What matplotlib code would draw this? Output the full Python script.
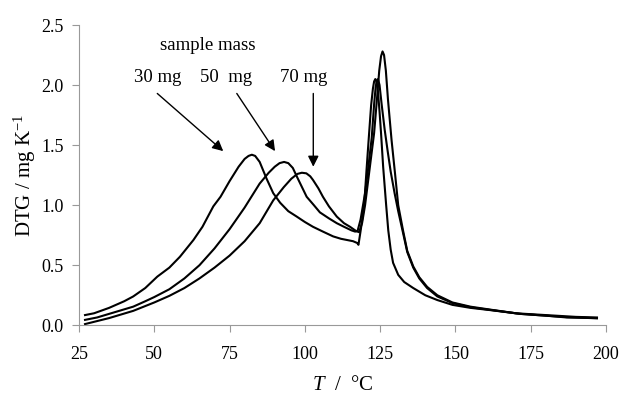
import matplotlib.pyplot as plt

# DTG curves (T in degC, DTG in mg/K)
T_30 = [27, 30, 35, 40, 43, 47, 51, 55, 58.5, 63, 66, 69.6, 72, 75, 78, 80, 81.3, 82.4, 83.5,
        85, 87.3, 89.5, 91.8, 94.5, 97.3, 100, 102.7, 106, 109.4, 112, 114, 116, 117.4, 117.8,
        118.6, 119.7, 120.5, 121.2, 122, 122.6, 123.0, 123.4, 123.8, 124.3, 124.8, 125.3, 126, 127, 127.7,
        128.5, 129.3, 131, 133, 136, 140, 144, 149, 155, 162, 170, 180, 190, 197]
D_30 = [0.085, 0.10, 0.145, 0.20, 0.24, 0.31, 0.405, 0.48, 0.57, 0.71, 0.82, 0.99, 1.07, 1.20, 1.32, 1.385, 1.41, 1.42, 1.41,
        1.36, 1.22, 1.10, 1.02, 0.95, 0.905, 0.86, 0.82, 0.78, 0.74, 0.72, 0.71, 0.70, 0.685, 0.67,
        0.80, 1.00, 1.30, 1.55, 1.83, 1.97, 2.03, 2.05, 2.03, 1.94, 1.78, 1.60, 1.32, 1.00, 0.79,
        0.63, 0.52, 0.42, 0.36, 0.31, 0.25, 0.21, 0.17, 0.145, 0.125, 0.10, 0.085, 0.07, 0.065]

T_50 = [27, 31, 35, 39, 43, 47, 50, 55, 60, 65, 70, 75, 80, 85, 88, 90, 91.6, 93.1, 94.5,
        96, 97.5, 100.6, 103, 105, 108, 110.6, 113, 115.5, 116.7, 117.5,
        118.5, 120, 121, 122.2, 123, 123.5, 123.9, 124.3, 124.8, 125.5, 126.5, 127.5,
        128.5, 129.8, 131, 132.6, 134, 136, 138, 140.6, 144, 149, 155, 162.5, 171.5, 180, 187, 197]
D_50 = [0.045, 0.065, 0.095, 0.125, 0.155, 0.20, 0.235, 0.30, 0.39, 0.50, 0.64, 0.80, 0.98, 1.18, 1.27, 1.32, 1.35, 1.36, 1.35,
        1.31, 1.23, 1.07, 1.00, 0.94, 0.89, 0.85, 0.82, 0.79, 0.78, 0.785,
        0.88, 1.10, 1.30, 1.56, 1.84, 1.98, 2.04, 2.05, 2.00, 1.84, 1.63, 1.45,
        1.28, 1.10, 0.95, 0.77, 0.61, 0.48, 0.39, 0.31, 0.24, 0.185, 0.15, 0.125, 0.095, 0.08, 0.068, 0.058]

T_70 = [27, 31, 35, 39, 43, 47, 50, 55, 60, 65, 70, 75, 80, 85, 89.5, 93, 95.5, 97.5, 99,
        100.5, 101.8, 102.7, 104.5, 106, 108, 110.6, 113, 115, 117, 118,
        119, 120, 121, 122, 123, 124, 124.7, 125.3, 125.8, 126.3, 126.9, 127.6, 128.8,
        130, 131, 132.6, 134, 136, 138, 140.6, 144, 149, 155, 162.5, 171.5, 180, 187, 197]
D_70 = [0.01, 0.035, 0.06, 0.09, 0.12, 0.16, 0.19, 0.245, 0.31, 0.39, 0.48, 0.58, 0.70, 0.85, 1.04, 1.15, 1.22, 1.26, 1.27,
        1.265, 1.24, 1.21, 1.14, 1.07, 0.99, 0.905, 0.85, 0.82, 0.785, 0.775,
        0.85, 1.00, 1.20, 1.40, 1.60, 1.90, 2.12, 2.24, 2.28, 2.25, 2.12, 1.88, 1.54,
        1.25, 1.00, 0.79, 0.62, 0.49, 0.40, 0.32, 0.25, 0.19, 0.155, 0.127, 0.095, 0.08, 0.065, 0.06]

labels = ['30 mg', '50  mg', '70 mg']
label_x = [51.2, 74.0, 99.6]
arrow_start = [(51.0, 1.93), (77.4, 1.93), (102.8, 1.93)]
arrow_tip = [(72.9, 1.45), (90.1, 1.45), (102.8, 1.32)]

plt.rcParams['font.family'] = 'Liberation Serif'
plt.rcParams['mathtext.fontset'] = 'custom'
plt.rcParams['mathtext.rm'] = 'Liberation Serif'
plt.rcParams['mathtext.it'] = 'Liberation Serif:italic'

fig = plt.figure(figsize=(6.23, 3.95), dpi=100)
ax = fig.add_axes([0.1268, 0.1765, 0.8459, 0.7602])

for T, D in [(T_30, D_30), (T_50, D_50), (T_70, D_70)]:
    ax.plot(T, D, color='black', lw=1.5, solid_joinstyle='round')

ax.set_xlim(25, 200)
ax.set_ylim(0, 2.5)
ax.set_xticks([25, 50, 75, 100, 125, 150, 175, 200])
ax.set_yticks([0.0, 0.5, 1.0, 1.5, 2.0, 2.5])
ax.set_yticklabels(['0.0', '0.5', '1.0', '1.5', '2.0', '2.5'])
ax.tick_params(labelsize=13, color='#999999', length=5, width=0.8, pad=6)
ax.tick_params(axis='x', pad=10)
for s in ['top', 'right']:
    ax.spines[s].set_visible(False)
for s in ['left', 'bottom']:
    ax.spines[s].set_color('#999999')
    ax.spines[s].set_linewidth(0.8)

ax.set_xlabel('$T$  /  °C', fontsize=15, labelpad=9)
ax.set_ylabel('DTG / mg K$^{-1}$', fontsize=15, labelpad=2)

ax.text(67.8, 2.33, 'sample mass', fontsize=13.5, ha='center', va='center')
for lab, x, st, tp in zip(labels, label_x, arrow_start, arrow_tip):
    ax.text(x, 2.06, lab, fontsize=13.5, ha='center', va='center')
    ax.annotate('', xy=tp, xytext=st,
                arrowprops=dict(arrowstyle='-|>', color='black', lw=1.0,
                                mutation_scale=16, shrinkA=0, shrinkB=0))

fig.savefig('out.png', dpi=100)
